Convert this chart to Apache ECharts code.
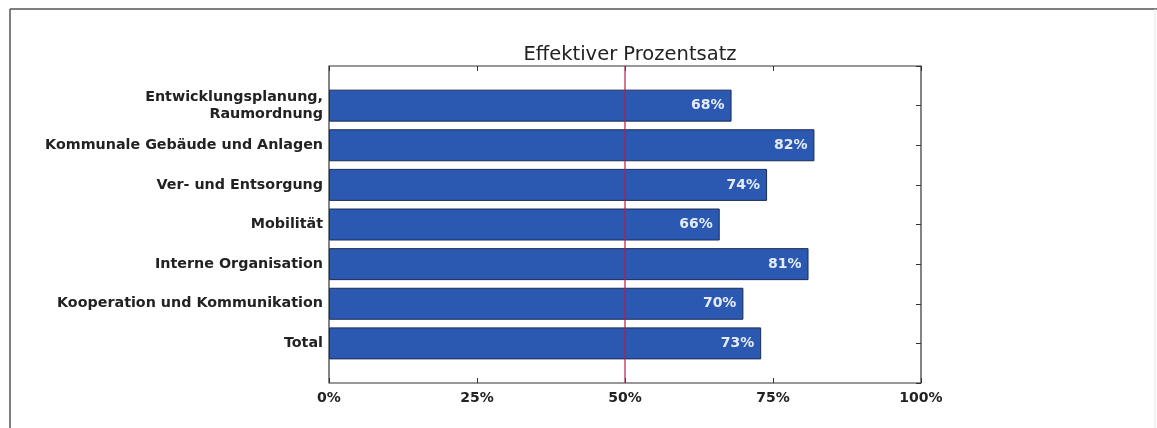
<!DOCTYPE html>
<html>
<head>
<meta charset="utf-8">
<script src="https://cdn.jsdelivr.net/npm/echarts@6/dist/echarts.min.js"></script>
<style>
html,body{margin:0;padding:0;background:#fff;}
#chart{width:1157px;height:428px;}
</style>
</head>
<body>
<div id="chart"></div>
<script>
const categories = [
  "Entwicklungsplanung,\nRaumordnung",
  "Kommunale Gebäude und Anlagen",
  "Ver- und Entsorgung",
  "Mobilität",
  "Interne Organisation",
  "Kooperation und Kommunikation",
  "Total"
];
const values = [68, 82, 74, 66, 81, 70, 73];
const xTicks = [0, 25, 50, 75, 100];
const threshold = 50;
const titleText = "Effektiver Prozentsatz";

// padded category list so bars sit one band away from the frame (as in the original)
const axisCats = [""].concat(categories, [""]);
const seriesData = ["-"].concat(values, ["-"]);

const chart = echarts.init(document.getElementById('chart'));
const font = "DejaVu Sans";
chart.setOption({
  animation: false,
  title: {
    text: titleText, left: 625, top: 40, textAlign: 'center',
    textStyle: {fontFamily: font, fontSize: 19.5, fontWeight: 'normal', color: '#222'}
  },
  grid: {left: 329, right: 236, top: 66, bottom: 45, show: true, borderColor: '#333', borderWidth: 1.2, backgroundColor: 'transparent'},
  xAxis: [{
    type: 'value', min: 0, max: 100, interval: 25, position: 'bottom',
    axisLine: {show: false, onZero: false},
    axisTick: {show: true, inside: true, length: 5, lineStyle: {color: '#333'}},
    splitLine: {show: false},
    axisLabel: {margin: 8, fontFamily: font, fontSize: 14, fontWeight: 'bold', color: '#222',
      formatter: v => xTicks.indexOf(v) >= 0 ? v + '%' : ''}
  }, {
    type: 'value', min: 0, max: 100, interval: 25, position: 'top',
    axisLine: {show: false, onZero: false},
    axisTick: {show: true, inside: true, length: 5, lineStyle: {color: '#333'}},
    splitLine: {show: false}, axisLabel: {show: false}
  }],
  yAxis: [{
    type: 'category', data: axisCats, inverse: true, boundaryGap: false, position: 'left',
    axisLine: {show: false, onZero: false},
    axisTick: {show: false},
    axisLabel: {margin: 6, fontFamily: font, fontSize: 14.3, fontWeight: 'bold', color: '#222', lineHeight: 17, interval: 0, align: 'right'}
  }, {
    type: 'category', data: axisCats, inverse: true, boundaryGap: false, position: 'right',
    axisLine: {show: false, onZero: false},
    axisTick: {show: true, inside: true, length: 5, interval: 0, lineStyle: {color: '#333'}},
    axisLabel: {show: false}
  }],
  series: [{
    type: 'bar', data: seriesData, barWidth: 32, xAxisIndex: 0, yAxisIndex: 0,
    itemStyle: {color: '#2b59b1', borderColor: '#1c2c55', borderWidth: 1},
    label: {show: true, position: 'insideRight', distance: 7, formatter: p => p.value + '%',
      fontFamily: font, fontSize: 14, fontWeight: 'bold', color: '#e6ecf7'},
    markLine: {
      silent: true, symbol: 'none', label: {show: false},
      lineStyle: {color: 'rgba(185,25,70,0.8)', width: 1.5, type: 'solid'},
      data: [{xAxis: threshold}]
    }
  }],
  graphic: [
    {type: 'line', shape: {x1: 10, y1: 9, x2: 10, y2: 428}, style: {stroke: '#555', lineWidth: 1.5}},
    {type: 'line', shape: {x1: 10, y1: 9, x2: 1157, y2: 9}, style: {stroke: '#555', lineWidth: 1.5}},
    {type: 'line', shape: {x1: 1155, y1: 9, x2: 1155, y2: 428}, style: {stroke: '#e4e4e4', lineWidth: 1}}
  ]
});
</script>
</body>
</html>
